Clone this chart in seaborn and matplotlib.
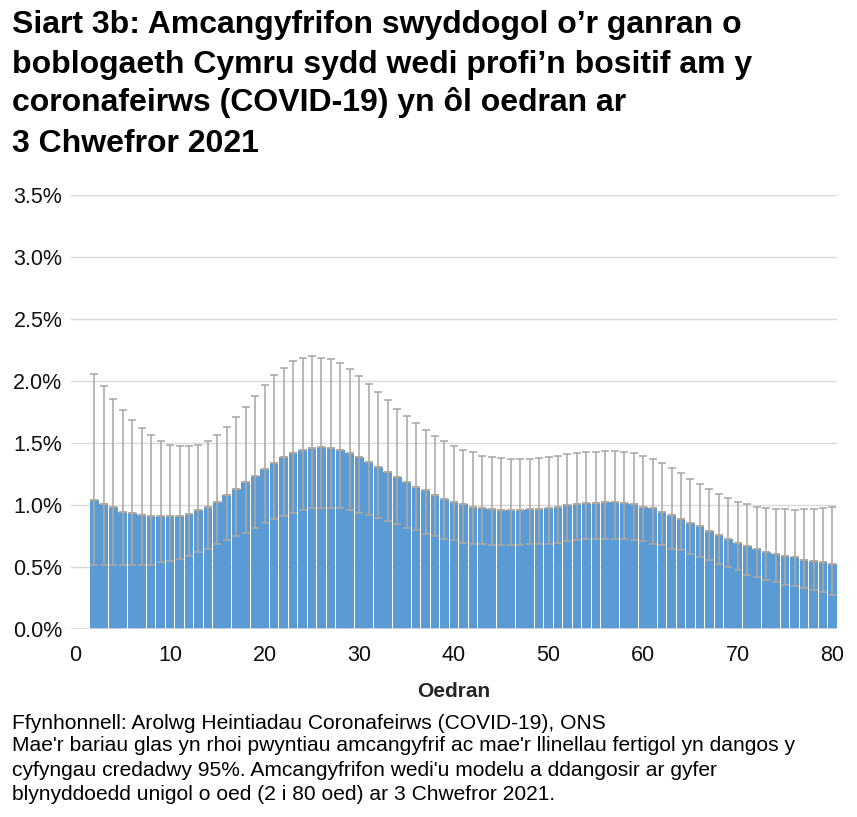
import numpy as np
import matplotlib
matplotlib.use('Agg')
import matplotlib.pyplot as plt
from matplotlib.ticker import PercentFormatter, MultipleLocator
import seaborn as sns

# ===================== data (percent of population, ages 2-80) =====================
ages = list(range(2, 81))

estimate = [
    1.04, 1.01, 0.99, 0.95, 0.94, 0.92, 0.91, 0.91, 0.91, 0.91,   # 2-11
    0.93, 0.96, 0.99, 1.03, 1.08, 1.13, 1.19, 1.24, 1.29, 1.34,   # 12-21
    1.39, 1.42, 1.45, 1.46, 1.47, 1.46, 1.45, 1.42, 1.39, 1.35,   # 22-31
    1.31, 1.27, 1.23, 1.19, 1.15, 1.12, 1.08, 1.05, 1.03, 1.01,   # 32-41
    0.99, 0.98, 0.97, 0.96, 0.96, 0.96, 0.97, 0.97, 0.98, 0.99,   # 42-51
    1.00, 1.01, 1.02, 1.02, 1.03, 1.03, 1.02, 1.01, 0.99, 0.98,   # 52-61
    0.95, 0.92, 0.89, 0.86, 0.83, 0.79, 0.76, 0.73, 0.70, 0.67,   # 62-71
    0.65, 0.62, 0.61, 0.59, 0.58, 0.56, 0.55, 0.54, 0.53,         # 72-80
]

lower = [
    0.52, 0.52, 0.52, 0.52, 0.52, 0.52, 0.52, 0.54, 0.55, 0.57,   # 2-11
    0.59, 0.62, 0.65, 0.69, 0.72, 0.75, 0.78, 0.82, 0.86, 0.89,   # 12-21
    0.91, 0.94, 0.96, 0.98, 0.98, 0.98, 0.98, 0.96, 0.94, 0.92,   # 22-31
    0.90, 0.87, 0.85, 0.82, 0.80, 0.77, 0.75, 0.73, 0.72, 0.70,   # 32-41
    0.69, 0.69, 0.68, 0.68, 0.68, 0.68, 0.69, 0.69, 0.69, 0.70,   # 42-51
    0.71, 0.72, 0.73, 0.73, 0.73, 0.73, 0.73, 0.72, 0.71, 0.69,   # 52-61
    0.68, 0.65, 0.64, 0.61, 0.58, 0.56, 0.53, 0.50, 0.48, 0.44,   # 62-71
    0.42, 0.40, 0.38, 0.36, 0.35, 0.33, 0.32, 0.30, 0.28,         # 72-80
]

upper = [
    2.06, 1.96, 1.86, 1.77, 1.69, 1.62, 1.57, 1.52, 1.49, 1.48,   # 2-11
    1.48, 1.49, 1.52, 1.57, 1.63, 1.71, 1.79, 1.88, 1.97, 2.05,   # 12-21
    2.11, 2.16, 2.19, 2.20, 2.19, 2.18, 2.15, 2.10, 2.04, 1.98,   # 22-31
    1.91, 1.85, 1.78, 1.72, 1.66, 1.61, 1.56, 1.52, 1.48, 1.45,   # 32-41
    1.43, 1.40, 1.39, 1.38, 1.37, 1.37, 1.37, 1.38, 1.39, 1.40,   # 42-51
    1.41, 1.42, 1.43, 1.43, 1.44, 1.44, 1.43, 1.42, 1.40, 1.37,   # 52-61
    1.34, 1.30, 1.26, 1.21, 1.17, 1.13, 1.09, 1.06, 1.03, 1.01,   # 62-71
    0.99, 0.98, 0.97, 0.97, 0.96, 0.97, 0.97, 0.98, 0.99,         # 72-80
]

title_lines = [
    "Siart 3b: Amcangyfrifon swyddogol o\u2019r ganran o",
    "boblogaeth Cymru sydd wedi profi\u2019n bositif am y",
    "coronafeirws (COVID-19) yn \u00f4l oedran ar",
    "3 Chwefror 2021",
]
note_lines = [
    "Ffynhonnell: Arolwg Heintiadau Coronafeirws (COVID-19), ONS",
    "Mae'r bariau glas yn rhoi pwyntiau amcangyfrif ac mae'r llinellau fertigol yn dangos y",
    "cyfyngau credadwy 95%. Amcangyfrifon wedi'u modelu a ddangosir ar gyfer",
    "blynyddoedd unigol o oed (2 i 80 oed) ar 3 Chwefror 2021.",
]
x_label = "Oedran"

# ===================== style =====================
sns.set_style("white")
plt.rcParams['font.family'] = ['Liberation Sans', 'DejaVu Sans']

BAR = '#5B9BD5'
ERR = '#A5A5A5'
ERR_IN = '#B3A99D'
GRID = '#D9D9D9'

est = np.array(estimate)
lo = np.array(lower)
hi = np.array(upper)

fig = plt.figure(figsize=(8.57, 8.17), dpi=100)
ax = fig.add_axes([0.0825, 0.2297, 0.9763 - 0.0825, 0.761 - 0.2297])

sns.barplot(x=ages, y=estimate, native_scale=True, width=0.92, color=BAR,
            saturation=1, errorbar=None, linewidth=0, ax=ax, zorder=2)

# upper part of interval (above bar) and lower part (inside bar)
ax.errorbar(ages, est, yerr=[np.zeros_like(est), hi - est], fmt='none',
            ecolor=ERR, elinewidth=1.1, capsize=3.2, capthick=1.1, zorder=3)
ax.errorbar(ages, est, yerr=[est - lo, np.zeros_like(est)], fmt='none',
            ecolor=ERR_IN, elinewidth=1.1, capsize=3.2, capthick=1.1, zorder=3)

ax.set_xlim(-0.5, 80.45)
ax.set_ylim(0, 3.5)
ax.xaxis.set_major_locator(MultipleLocator(10))
ax.yaxis.set_major_locator(MultipleLocator(0.5))
ax.yaxis.set_major_formatter(PercentFormatter(xmax=100, decimals=1))
ax.grid(axis='y', color=GRID, linewidth=1.0, zorder=0)
ax.set_axisbelow(True)
for s in ax.spines.values():
    s.set_visible(False)
ax.axhline(0, color=GRID, linewidth=1.2, zorder=4)
ax.tick_params(axis='y', length=0, pad=6, labelsize=15.5, labelcolor='#111111')
ax.tick_params(axis='x', length=0, pad=11, labelsize=15.5, labelcolor='#111111')
ax.set_xlabel(x_label, fontsize=15, fontweight='bold', labelpad=12)
ax.set_ylabel('')

# title, line by line (baselines in px from top)
for txt, yb in zip(title_lines, [33.3, 72.7, 111.5, 151.7]):
    fig.text(12 / 857, 1 - yb / 817, txt, fontsize=23, fontweight='bold',
             va='baseline', ha='left', color='black')

for txt, yb in zip(note_lines, [729.3, 751, 775.5, 800.3]):
    fig.text(12 / 857, 1 - yb / 817, txt, fontsize=15.1, va='baseline',
             ha='left', color='black')

fig.savefig('out.png', dpi=100)
